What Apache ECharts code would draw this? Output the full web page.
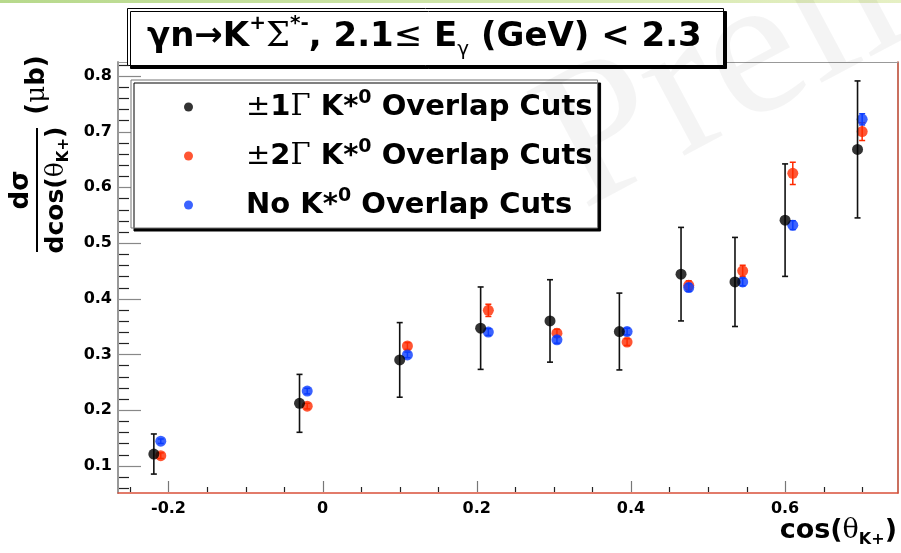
<!DOCTYPE html>
<html>
<head>
<meta charset="utf-8">
<script src="https://cdn.jsdelivr.net/npm/echarts@6/dist/echarts.min.js"></script>
<style>
  html, body { margin: 0; padding: 0; background: #fff; }
  #chart { width: 901px; height: 553px; }
</style>
</head>
<body>
<div id="chart"></div>
<script>
// Legend / series names
const SERIES_NAMES = ['±1Γ K*0 Overlap Cuts', '±2Γ K*0 Overlap Cuts', 'No K*0 Overlap Cuts'];

// ±1Γ K*0 overlap cuts
const cosTheta1 = [-0.219, -0.030, 0.100, 0.205, 0.295, 0.385, 0.465, 0.535, 0.600, 0.694];
const dsigma1   = [0.121, 0.212, 0.290, 0.347, 0.360, 0.341, 0.444, 0.430, 0.541, 0.668];
const error1    = [0.036, 0.052, 0.067, 0.074, 0.074, 0.069, 0.084, 0.080, 0.101, 0.123];

// ±2Γ K*0 overlap cuts
const cosTheta2 = [-0.210, -0.020, 0.110, 0.215, 0.304, 0.395, 0.475, 0.545, 0.610, 0.700];
const dsigma2   = [0.118, 0.207, 0.315, 0.379, 0.338, 0.322, 0.424, 0.450, 0.625, 0.700];
const error2    = [0.005, 0.005, 0.006, 0.011, 0.007, 0.006, 0.008, 0.010, 0.020, 0.016];

// No K*0 overlap cuts
const cosTheta3 = [-0.210, -0.020, 0.110, 0.215, 0.304, 0.395, 0.475, 0.545, 0.610, 0.700];
const dsigma3   = [0.144, 0.234, 0.299, 0.340, 0.326, 0.341, 0.420, 0.430, 0.532, 0.722];
const error3    = [0.004, 0.005, 0.005, 0.006, 0.006, 0.006, 0.007, 0.007, 0.008, 0.010];

// Axis ranges and tick labels
const X_RANGE = [-0.2655, 0.7465];
const Y_RANGE = [0.051, 0.825];
const xMajorTicks = [-0.2, 0, 0.2, 0.4, 0.6];
const yMajorTicks = [0.1, 0.2, 0.3, 0.4, 0.5, 0.6, 0.7, 0.8];
const X_MINOR_STEP = 0.05;
const Y_MINOR_STEP = 0.02;

function minorTicks(range, step, majors) {
  const out = [];
  const start = Math.ceil(range[0] / step - 1e-9);
  const end = Math.floor(range[1] / step + 1e-9);
  for (let i = start; i <= end; i++) {
    const v = +(i * step).toFixed(4);
    if (!majors.some(m => Math.abs(m - v) < 1e-6)) out.push(v);
  }
  return out;
}
const xMinorTicks = minorTicks(X_RANGE, X_MINOR_STEP, xMajorTicks);
const yMinorTicks = minorTicks(Y_RANGE, Y_MINOR_STEP, yMajorTicks);

const SANS = '"DejaVu Sans", "Liberation Sans", sans-serif';
const SERIF = '"DejaVu Serif", "Liberation Serif", serif';
const COLORS = ['#000000', '#ff2a00', '#0a3cff'];

const zip = (xs, ys, es) => xs.map((x, i) => [x, ys[i], es[i]]);

function errorBars(capHalf, color, width) {
  return function (params, api) {
    const x = api.value(0), y = api.value(1), e = api.value(2);
    const top = api.coord([x, y + e]);
    const bot = api.coord([x, y - e]);
    const st = { stroke: color, lineWidth: width };
    return {
      type: 'group',
      children: [
        { type: 'line', shape: { x1: top[0], y1: top[1], x2: bot[0], y2: bot[1] }, style: st },
        { type: 'line', shape: { x1: top[0] - capHalf, y1: top[1], x2: top[0] + capHalf, y2: top[1] }, style: st },
        { type: 'line', shape: { x1: bot[0] - capHalf, y1: bot[1], x2: bot[0] + capHalf, y2: bot[1] }, style: st }
      ]
    };
  };
}

const LEGEND_TEXT = {
  [SERIES_NAMES[0]]: '{pm|±}{b|1}{g|Γ}{b| K*}{sup|0}{b| Overlap Cuts}',
  [SERIES_NAMES[1]]: '{pm|±}{b|2}{g|Γ}{b| K*}{sup|0}{b| Overlap Cuts}',
  [SERIES_NAMES[2]]: '{b|No K*}{sup|0}{b| Overlap Cuts}'
};

const chart = echarts.init(document.getElementById('chart'), null, { renderer: 'canvas' });

const option = {
  animation: false,
  backgroundColor: '#fff',
  title: {
    text: '{t|γn→K}{sp|+}{s|Σ}{sp|*-}{t|, 2.1}{n|≤}{t| E}{sb|γ}{t| (GeV) < 2.3}',
    left: 127, top: 8,
    padding: [6, 22, 6, 20],
    backgroundColor: '#fff',
    borderColor: '#000', borderWidth: 1,
    shadowColor: '#000', shadowOffsetX: 3, shadowOffsetY: 3, shadowBlur: 0,
    textStyle: {
      rich: {
        t: { fontFamily: SANS, fontWeight: 'bold', fontSize: 34, lineHeight: 46, color: '#000' },
        n: { fontFamily: SANS, fontWeight: 'normal', fontSize: 34, lineHeight: 46, color: '#000' },
        s: { fontFamily: SERIF, fontWeight: 'normal', fontSize: 34, lineHeight: 46, color: '#000' },
        sp: { fontFamily: SANS, fontWeight: 'bold', fontSize: 20, lineHeight: 22, verticalAlign: 'top', color: '#000' },
        sb: { fontFamily: SANS, fontWeight: 'normal', fontSize: 20, lineHeight: 16, verticalAlign: 'bottom', color: '#000' }
      }
    }
  },
  legend: {
    orient: 'vertical',
    left: 131, top: 80,
    data: SERIES_NAMES,
    icon: 'circle',
    itemWidth: 9, itemHeight: 9, itemGap: 13,
    padding: [9, 5, 5, 53],
    selectedMode: false,
    backgroundColor: '#fff',
    borderColor: '#777', borderWidth: 1,
    shadowColor: '#000', shadowOffsetX: 3, shadowOffsetY: 3, shadowBlur: 0,
    z: 30,
    formatter: name => LEGEND_TEXT[name],
    textStyle: {
      fontSize: 29, lineHeight: 36,
      padding: [0, 0, 0, 48],
      rich: {
        b: { fontFamily: SANS, fontWeight: 'bold', fontSize: 29, lineHeight: 36, color: '#000' },
        pm: { fontFamily: SANS, fontWeight: 'normal', fontSize: 29, lineHeight: 36, color: '#000' },
        g: { fontFamily: SERIF, fontWeight: 'normal', fontSize: 29, lineHeight: 36, color: '#000' },
        sup: { fontFamily: SANS, fontWeight: 'bold', fontSize: 19, lineHeight: 22, verticalAlign: 'top', color: '#000' }
      }
    }
  },
  grid: {
    left: 118, right: 3, top: 62, bottom: 60,
    show: false
  },
  xAxis: [
    {
      type: 'value', min: X_RANGE[0], max: X_RANGE[1], position: 'bottom',
      axisLine: { show: true, onZero: false, lineStyle: { color: '#d9503a', width: 1.5 } },
      axisTick: { show: false },
      axisLabel: {
        customValues: xMajorTicks, margin: 8,
        formatter: v => (Math.abs(v) < 1e-9 ? '0' : v.toFixed(1)),
        fontFamily: SANS, fontWeight: 'bold', fontSize: 16, color: '#000'
      },
      splitLine: { show: false }
    },
    {
      type: 'value', min: X_RANGE[0], max: X_RANGE[1], position: 'top',
      axisLine: { show: true, onZero: false, lineStyle: { color: '#999', width: 1 } },
      axisTick: { show: false }, axisLabel: { show: false }, splitLine: { show: false }
    }
  ],
  yAxis: [
    {
      type: 'value', min: Y_RANGE[0], max: Y_RANGE[1], position: 'left',
      axisLine: { show: true, onZero: false, lineStyle: { color: '#999', width: 2 } },
      axisTick: { show: false },
      axisLabel: {
        customValues: yMajorTicks, margin: 6,
        formatter: v => v.toFixed(1),
        fontFamily: SANS, fontWeight: 'bold', fontSize: 16, color: '#000'
      },
      splitLine: { show: false }
    },
    {
      type: 'value', min: Y_RANGE[0], max: Y_RANGE[1], position: 'right',
      axisLine: { show: true, onZero: false, lineStyle: { color: '#b8402a', width: 1.5 } },
      axisTick: { show: false }, axisLabel: { show: false }, splitLine: { show: false }
    }
  ],
  series: [
    {
      name: SERIES_NAMES[1] + ' err', type: 'custom',
      renderItem: errorBars(3, COLORS[1], 1.5), data: zip(cosTheta2, dsigma2, error2),
      encode: { x: 0, y: 1 }, z: 3
    },
    {
      name: SERIES_NAMES[1], type: 'scatter', symbol: 'circle', symbolSize: 11,
      itemStyle: { color: COLORS[1] }, data: zip(cosTheta2, dsigma2, error2).map(d => [d[0], d[1]]), z: 4
    },
    {
      name: SERIES_NAMES[2] + ' err', type: 'custom',
      renderItem: errorBars(3, COLORS[2], 1.5), data: zip(cosTheta3, dsigma3, error3),
      encode: { x: 0, y: 1 }, z: 5
    },
    {
      name: SERIES_NAMES[2], type: 'scatter', symbol: 'circle', symbolSize: 11,
      itemStyle: { color: COLORS[2] }, data: zip(cosTheta3, dsigma3, error3).map(d => [d[0], d[1]]), z: 6
    },
    {
      name: SERIES_NAMES[0] + ' err', type: 'custom',
      renderItem: errorBars(3, '#111', 1.6), data: zip(cosTheta1, dsigma1, error1),
      encode: { x: 0, y: 1 }, z: 7
    },
    {
      name: SERIES_NAMES[0], type: 'scatter', symbol: 'circle', symbolSize: 11,
      itemStyle: { color: COLORS[0] }, data: zip(cosTheta1, dsigma1, error1).map(d => [d[0], d[1]]), z: 8
    }
  ],
  graphic: [
    // thin slide header band
    {
      id: 'header', type: 'rect', left: 0, top: 0, shape: { width: 901, height: 3 }, z: 1,
      style: {
        fill: new echarts.graphic.LinearGradient(0, 0, 1, 0, [
          { offset: 0, color: '#b7d98c' }, { offset: 1, color: '#e6f0c4' }
        ])
      }
    },
    // y-axis title: dσ / dcos(θK+) (μb)
    {
      id: 'ytitle', type: 'group', x: 37, y: 190, rotation: Math.PI / 2, z: 10,
      children: [
        {
          type: 'text', x: 0, y: -3,
          style: {
            text: 'dσ', align: 'center', verticalAlign: 'bottom',
            fontFamily: SANS, fontWeight: 'bold', fontSize: 26, fill: '#000'
          }
        },
        { type: 'line', shape: { x1: -62, y1: 0, x2: 62, y2: 0 }, style: { stroke: '#000', lineWidth: 2 } },
        {
          type: 'text', x: 0, y: 3,
          style: {
            text: '{b|dcos(}{t|θ}{sb|K+}{b|)}', align: 'center', verticalAlign: 'top',
            rich: {
              b: { fontFamily: SANS, fontWeight: 'bold', fontSize: 25, lineHeight: 32, color: '#000' },
              t: { fontFamily: SERIF, fontWeight: 'normal', fontSize: 25, lineHeight: 32, color: '#000' },
              sb: { fontFamily: SANS, fontWeight: 'bold', fontSize: 15, lineHeight: 16, verticalAlign: 'bottom', color: '#000' }
            }
          }
        }
      ]
    },
    {
      id: 'yunit', type: 'text', x: 37, y: 85, rotation: Math.PI / 2, z: 10,
      style: {
        text: '{b|(}{m|μ}{b|b)}', align: 'center', verticalAlign: 'middle',
        rich: {
          b: { fontFamily: SANS, fontWeight: 'bold', fontSize: 26, color: '#000' },
          m: { fontFamily: SERIF, fontWeight: 'normal', fontSize: 26, color: '#000' }
        }
      }
    },
    // x-axis title: cos(θK+)
    {
      id: 'xtitle', type: 'text', x: 897, y: 531, z: 10,
      style: {
        text: '{b|cos(}{t|θ}{sb|K+}{b|)}', align: 'right', verticalAlign: 'middle',
        rich: {
          b: { fontFamily: SANS, fontWeight: 'bold', fontSize: 27, lineHeight: 34, color: '#000' },
          t: { fontFamily: SERIF, fontWeight: 'normal', fontSize: 27, lineHeight: 34, color: '#000' },
          sb: { fontFamily: SANS, fontWeight: 'bold', fontSize: 16, lineHeight: 16, verticalAlign: 'bottom', color: '#000' }
        }
      }
    },
    // faint watermark across the upper right
    {
      id: 'watermark', type: 'text', x: 605, y: 252, rotation: 0.49, z: 100,
      style: {
        text: 'Preliminary', align: 'left', verticalAlign: 'bottom',
        fontFamily: '"Liberation Serif", serif', fontSize: 200, fill: 'rgba(0,0,0,0.045)'
      }
    }
  ]
};

chart.setOption(option);

// Inward tick marks on the left and bottom frame, placed with the grid's own scales
function tickElements() {
  const els = [];
  const corner = chart.convertToPixel({ gridIndex: 0 }, [X_RANGE[0], Y_RANGE[0]]);
  const left = corner[0], bottom = corner[1];
  const addX = (vals, len, color, tag) => vals.forEach((v, i) => {
    const px = Math.round(chart.convertToPixel({ gridIndex: 0 }, [v, Y_RANGE[0]])[0]) + 0.5;
    els.push({ id: tag + i, type: 'line', z: 20, silent: true,
      shape: { x1: px, y1: bottom - 1, x2: px, y2: bottom - 1 - len },
      style: { stroke: color, lineWidth: 1.2 } });
  });
  const addY = (vals, len, color, tag) => vals.forEach((v, i) => {
    const py = Math.round(chart.convertToPixel({ gridIndex: 0 }, [X_RANGE[0], v])[1]) + 0.5;
    els.push({ id: tag + i, type: 'line', z: 20, silent: true,
      shape: { x1: left + 1, y1: py, x2: left + 1 + len, y2: py },
      style: { stroke: color, lineWidth: 1.2 } });
  });
  addX(xMajorTicks, 11, '#777', 'xmaj');
  addX(xMinorTicks, 5, '#222', 'xmin');
  addY(yMajorTicks, 22, '#888', 'ymaj');
  addY(yMinorTicks, 10, '#222', 'ymin');
  return els;
}
chart.setOption({ graphic: tickElements() });
</script>
</body>
</html>
